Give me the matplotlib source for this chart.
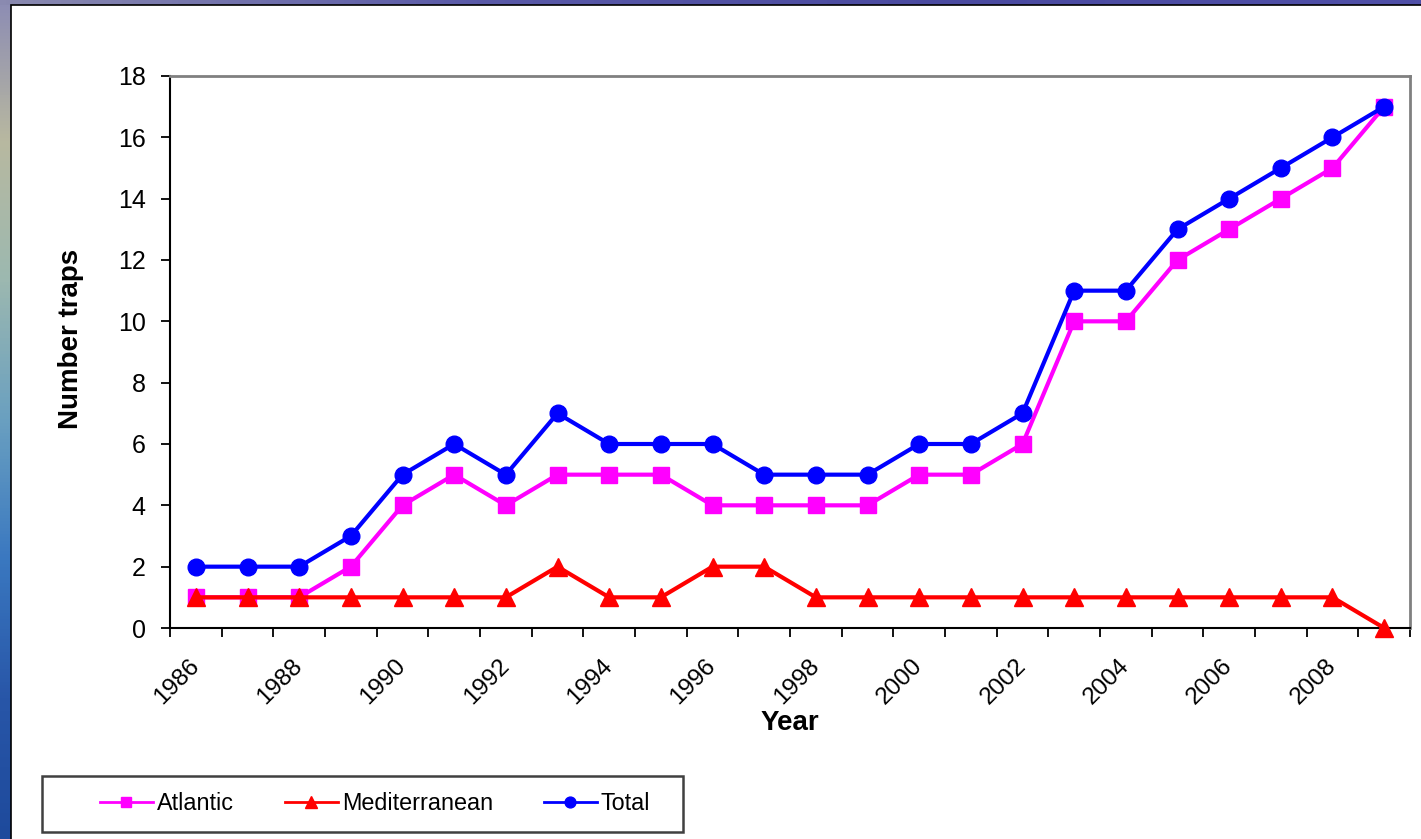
import numpy as np
import matplotlib
matplotlib.use("Agg")
import matplotlib.pyplot as plt
from matplotlib.patches import Rectangle
from matplotlib.colors import LinearSegmentedColormap

years = list(range(1986, 2010))
atlantic = [1, 1, 1, 2, 4, 5, 4, 5, 5, 5, 4, 4, 4, 4, 5, 5, 6, 10, 10, 12, 13, 14, 15, 17]
mediterranean = [1, 1, 1, 1, 1, 1, 1, 2, 1, 1, 2, 2, 1, 1, 1, 1, 1, 1, 1, 1, 1, 1, 1, 0]
total = [2, 2, 2, 3, 5, 6, 5, 7, 6, 6, 6, 5, 5, 5, 6, 6, 7, 11, 11, 13, 14, 15, 16, 17]
tick_labels = [str(y) if (y - 1986) % 2 == 0 else "" for y in years]
y_ticks = [0, 2, 4, 6, 8, 10, 12, 14, 16, 18]

plt.rcParams['font.family'] = ['Liberation Sans', 'DejaVu Sans']

W, H = 1421, 839
fig = plt.figure(figsize=(W / 100, H / 100), dpi=100)

# background gradient (slide backdrop)
bg = fig.add_axes([0, 0, 1, 1], zorder=-10)
bg.set_axis_off()
cmap = LinearSegmentedColormap.from_list(
    "ocean", ["#8c8cb4", "#b8b8a0", "#9cb8b0", "#6aa0c0", "#3a78c0", "#2856a8", "#1e4a9c"])
grad = np.linspace(0, 1, 256).reshape(-1, 1)
bg.imshow(grad, aspect="auto", cmap=cmap, extent=[0, 1, 0, 1], origin="upper")
top_cmap = LinearSegmentedColormap.from_list("top", ["#8a8ab0", "#5a5aa8", "#4a4aa0", "#5050a8"])
bg.imshow(np.linspace(0, 1, 256).reshape(1, -1), aspect="auto", cmap=top_cmap,
          extent=[0, 1, 1 - 5 / H, 1], origin="upper")
bg.set_xlim(0, 1)
bg.set_ylim(0, 1)
fig.patches.append(Rectangle((11 / W, -0.01), 1.02 - 11 / W, 1.01 - 5 / H, transform=fig.transFigure,
                             facecolor="white", edgecolor="black", linewidth=1.2, zorder=-5))

ax = fig.add_axes([170 / W, 1 - 628 / H, (1410 - 170) / W, (628 - 76) / H])
x = np.arange(len(years))

ax.plot(x, atlantic, color="#FF00FF", marker="s", markersize=12, linewidth=3,
        label="Atlantic", clip_on=False, zorder=3)
ax.plot(x, mediterranean, color="#FF0000", marker="^", markersize=13.5, linewidth=3,
        label="Mediterranean", clip_on=False, zorder=4)
ax.plot(x, total, color="#0000FF", marker="o", markersize=12, linewidth=3,
        label="Total", clip_on=False, zorder=5)

ax.set_xlim(-0.5, len(years) - 0.5)
ax.set_ylim(0, 18)
ax.set_yticks(y_ticks)
ax.set_yticklabels([str(v) for v in y_ticks], fontsize=18)

ax.set_xticks(np.arange(-0.5, len(years) + 0.5, 1))
ax.set_xticklabels([])
ax.set_xticks(x, minor=True)
ax.set_xticklabels(tick_labels, minor=True, rotation=45, ha="right", va="center",
                   rotation_mode="anchor", fontsize=17.5)
ax.tick_params(axis="x", which="minor", length=0, pad=25)
ax.tick_params(axis="x", which="major", length=6.5, width=1.3, direction="out", color="black")
ax.tick_params(axis="y", length=6.5, width=1.3, direction="out", color="black", pad=11)

for s in ["left", "bottom"]:
    ax.spines[s].set_color("black")
    ax.spines[s].set_linewidth(1.5)
for s in ["top", "right"]:
    ax.spines[s].set_color("#808080")
    ax.spines[s].set_linewidth(2)

ax.set_ylabel("Number traps", fontsize=20, fontweight="bold")
ax.yaxis.set_label_coords((84 - 170) / 1240, (628 - 339) / 552)
ax.set_xlabel("Year", fontsize=20, fontweight="bold", labelpad=1)

# legend frame + entries
fig.patches.append(Rectangle((42 / W, 1 - 832 / H), 641 / W, 56 / H, transform=fig.transFigure,
                             facecolor="white", edgecolor="#404040", linewidth=1.8, zorder=1))
handles, labels = ax.get_legend_handles_labels()
leg = fig.legend(handles, labels, loc="center left", bbox_to_anchor=(100 / W, 1 - 804 / H),
                 ncol=3, fontsize=16.8, frameon=False,
                 borderpad=0, handlelength=2.25, handletextpad=0.18, columnspacing=2.2,
                 borderaxespad=0, markerscale=0.65)
leg.set_zorder(2)
for h in leg.legend_handles:
    h.set_linewidth(2)

fig.savefig("out.png", dpi=100)
